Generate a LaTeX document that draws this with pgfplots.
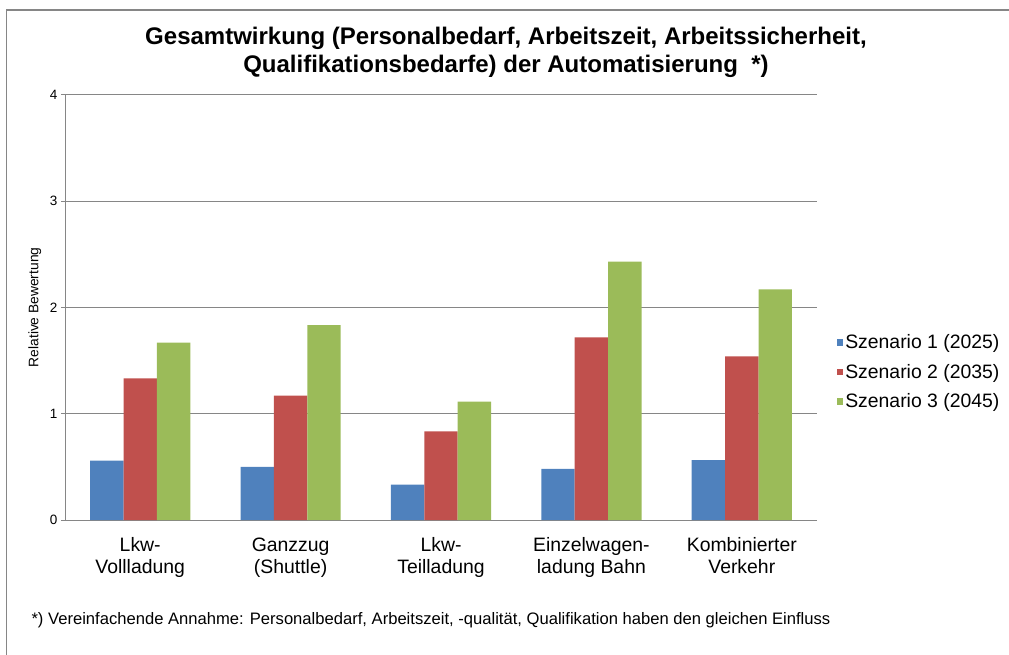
\documentclass[border=0pt]{standalone}
\usepackage{pgfplots}
\pgfplotsset{compat=1.18}
\usepackage{fontspec}
\setmainfont{Liberation Sans}

\definecolor{xlblue}{HTML}{4F81BD}
\definecolor{xlred}{HTML}{C0504D}
\definecolor{xlgreen}{HTML}{9BBB59}
\definecolor{gridgray}{HTML}{868686}

\begin{document}
\begin{tikzpicture}[x=1pt,y=1pt]
\useasboundingbox (0,0) rectangle (1009,-655);
\draw[gridgray,line width=1.5pt] (6.5,-655) -- (6.5,-10) -- (1009,-10);

\begin{axis}[
  at={(65pt,-520pt)}, anchor=south west,
  scale only axis, width=752pt, height=425.3pt,
  ybar=0pt, bar width=33.4pt,
  xmin=-0.5, xmax=4.5, ymin=0, ymax=4,
  xtick={0,1,2,3,4},
  xticklabels={{Lkw-\\Vollladung},{Ganzzug\\(Shuttle)},{Lkw-\\Teilladung},{Einzelwagen-\\ladung Bahn},{Kombinierter\\Verkehr}},
  x tick label style={font=\fontsize{19.4}{22}\selectfont, align=center, yshift=-10pt},
  major x tick style={draw=none},
  extra x ticks={-0.5,0.5,1.5,2.5,3.5,4.5},
  extra x tick labels={},
  extra x tick style={major tick length=5pt, tick style={gridgray, line width=0.8pt}, tick align=outside, grid=none},
  ytick={0,1,2,3,4},
  y tick label style={font=\fontsize{13.5}{15}\selectfont},
  /pgf/number format/assume math mode=true,
  ymajorgrids, grid style={gridgray, line width=0.8pt},
  major y tick style={gridgray, line width=0.8pt},
  tick align=outside, major tick length=4pt,
  axis y line*=left, axis x line*=bottom,
  axis line style={gridgray, line width=0.8pt, -},
  ylabel={Relative Bewertung},
  ylabel style={font=\fontsize{13.8}{16}\selectfont, at={(axis description cs:-0.04,0.5)}, anchor=center},
  legend style={at={(1.022,0.348)}, anchor=west, draw=none, fill=none,
    font=\fontsize{19.4}{22}\selectfont, row sep=10pt, cells={anchor=west}},
  legend image code/.code={\fill[#1] (0pt,-3.2pt) rectangle (6.5pt,3.2pt);},
]
\addplot[fill=xlblue, draw=none] coordinates {(0,0.558) (1,0.50) (2,0.332) (3,0.48) (4,0.564)};
\addlegendentry{Szenario 1 (2025)}
\addplot[fill=xlred, draw=none] coordinates {(0,1.332) (1,1.169) (2,0.834) (3,1.718) (4,1.539)};
\addlegendentry{Szenario 2 (2035)}
\addplot[fill=xlgreen, draw=none] coordinates {(0,1.668) (1,1.834) (2,1.113) (3,2.43) (4,2.169)};
\addlegendentry{Szenario 3 (2045)}
\end{axis}

\node[font=\bfseries\fontsize{24}{28}\selectfont, align=center, anchor=center] at (506,-52)
  {Gesamtwirkung (Personalbedarf, Arbeitszeit, Arbeitssicherheit,\\Qualifikationsbedarfe) der Automatisierung\ \ *)};
\node[font=\fontsize{16.6}{19}\selectfont, anchor=west] at (28,-620)
  {*) Vereinfachende Annahme: Personalbedarf, Arbeitszeit, -qualität, Qualifikation haben den gleichen Einfluss};
\end{tikzpicture}
\end{document}
